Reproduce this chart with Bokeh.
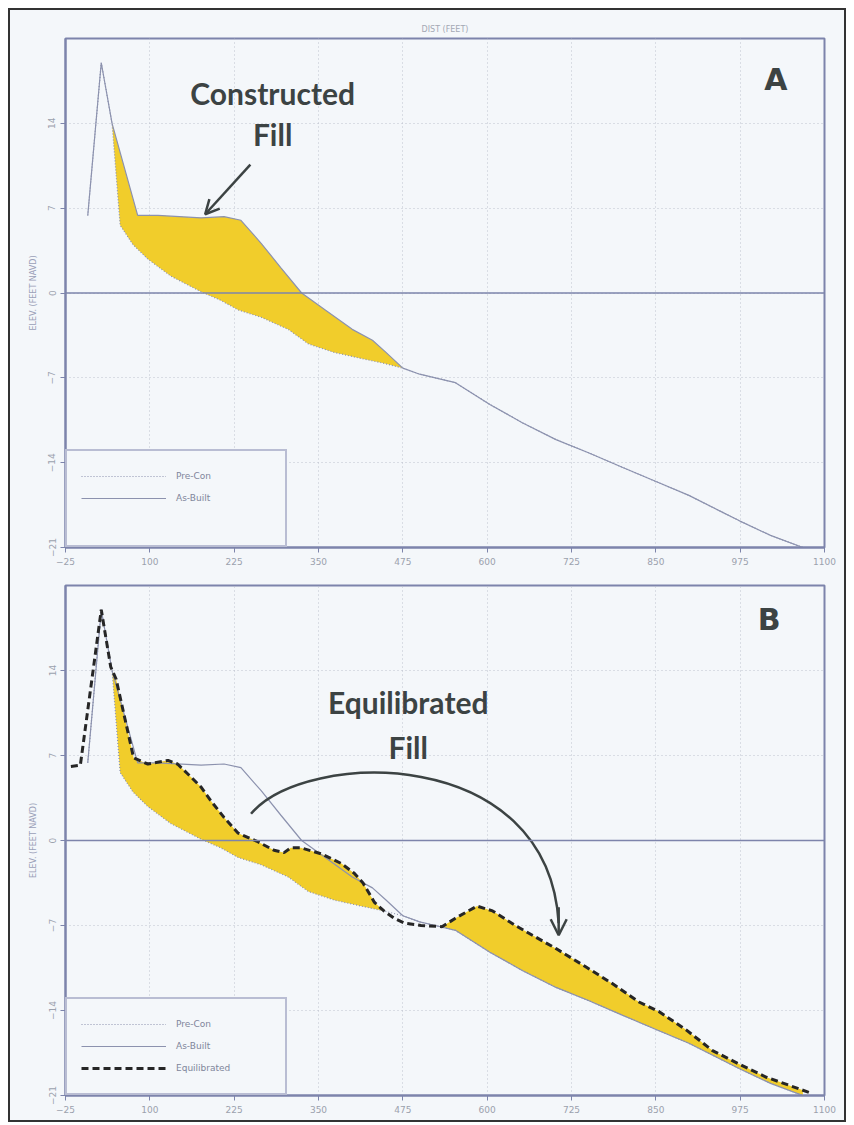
import numpy as np
from bokeh.plotting import figure
from bokeh.models import (Span, Legend, LegendItem, Label, Arrow, OpenHead,
                          FixedTicker, Range1d)
from bokeh.layouts import column
from bokeh.embed import file_html
from bokeh.resources import INLINE

# ---------------- data ----------------
x_ticks = [-25, 100, 225, 350, 475, 600, 725, 850, 975, 1100]
y_ticks = [-21, -14, -7, 0, 7, 14]

precon_x = [8, 28, 44, 56, 75, 97, 131, 176, 205, 231, 265, 305, 335, 373, 413,
            447, 475, 500, 523, 553, 604, 652, 702, 751, 801, 852, 899, 949, 974, 1020, 1068]
precon_y = [6.4, 19.0, 14.0, 5.6, 4.0, 2.8, 1.4, 0.1, -0.6, -1.4, -2.0, -3.0, -4.2, -4.9, -5.4,
            -5.8, -6.2, -6.7, -7.0, -7.4, -9.2, -10.7, -12.1, -13.2, -14.4, -15.6, -16.7, -18.1, -18.8, -20.0, -21.0]

asbuilt_x = [8, 28, 44, 82, 112, 176, 210, 235, 265, 294, 325, 360, 400, 430, 450, 475,
             500, 523, 553, 604, 652, 702, 751, 801, 852, 899, 949, 974, 1020, 1068]
asbuilt_y = [6.4, 19.0, 14.0, 6.4, 6.4, 6.2, 6.3, 6.0, 4.1, 2.1, 0.0, -1.4, -3.0, -3.9, -4.9, -6.2,
             -6.7, -7.0, -7.4, -9.2, -10.7, -12.1, -13.2, -14.4, -15.6, -16.7, -18.1, -18.8, -20.0, -21.0]

equil_x = [-17, -3, 28, 42, 50, 76, 97, 127, 141, 156, 176, 190, 210, 231, 260, 284, 299, 309,
           324, 354, 384, 403, 416, 433, 447, 462, 477, 502, 533, 553, 585, 608, 642, 667, 702,
           746, 786, 825, 855, 895, 934, 973, 1014, 1080]
equil_y = [6.1, 6.2, 19.0, 14.3, 13.3, 6.8, 6.3, 6.6, 6.3, 5.5, 4.4, 3.3, 1.9, 0.6, -0.1, -0.8, -1.0, -0.6,
           -0.6, -1.1, -1.9, -2.7, -3.5, -5.1, -5.8, -6.4, -6.8, -7.0, -7.1, -6.4, -5.4, -5.8, -7.0, -7.8, -8.9,
           -10.4, -11.8, -13.3, -14.1, -15.6, -17.3, -18.4, -19.5, -20.8]

# ---------------- style ----------------
AXIS = "#7d84ab"
LINE = "#8c92ae"
FILL = "#f1cd2b"
BG = "#f4f7fa"
TXT = "#3c4343"
TICK = "#9ba1ad"


def fill_between(p, xa, ya, xb, yb, start=None):
    lo_x = max(min(xa), min(xb))
    if start is not None:
        lo_x = max(lo_x, start)
    hi_x = min(max(xa), max(xb))
    xs = np.union1d(np.union1d(xa, xb), np.arange(lo_x, hi_x, 1.0))
    xs = xs[(xs >= lo_x) & (xs <= hi_x)]
    low = np.interp(xs, xa, ya)
    high = np.interp(xs, xb, yb)
    p.varea(x=xs, y1=low, y2=np.maximum(low, high), fill_color=FILL, fill_alpha=1.0)


def make_panel(height, top_border, title):
    p = figure(width=834, height=height, x_range=Range1d(-25, 1100), y_range=Range1d(-21, 21),
               output_backend="svg", toolbar_location=None,
               min_border_left=55, min_border_right=20, min_border_top=top_border,
               min_border_bottom=25, background_fill_color=BG, border_fill_color=BG,
               title=title)
    p.title.align = "center"
    p.title.text_font = "DejaVu Sans"
    p.title.text_font_size = "8px"
    p.title.text_font_style = "normal"
    p.title.text_color = "#a3a8b4"
    p.outline_line_color = AXIS
    p.outline_line_width = 2
    for ax in (p.xaxis, p.yaxis):
        ax.axis_line_color = AXIS
        ax.axis_line_width = 2
        ax.major_tick_line_color = AXIS
        ax.major_tick_out = 5
        ax.major_tick_in = 0
        ax.minor_tick_line_color = None
        ax.major_label_text_color = TICK
        ax.major_label_text_font = "DejaVu Sans"
        ax.major_label_text_font_size = "9px"
    p.xaxis.ticker = FixedTicker(ticks=x_ticks)
    p.yaxis.ticker = FixedTicker(ticks=y_ticks)
    p.yaxis.major_label_orientation = "vertical"
    p.yaxis.axis_label = "ELEV. (FEET NAVD)"
    p.yaxis.axis_label_text_font = "DejaVu Sans"
    p.yaxis.axis_label_text_font_size = "8px"
    p.yaxis.axis_label_text_font_style = "normal"
    p.yaxis.axis_label_text_color = "#9aa0b8"
    p.yaxis.axis_label_standoff = 8
    for g in (p.xgrid, p.ygrid):
        g.grid_line_color = "#b9bdcb"
        g.grid_line_dash = "1 3"
        g.grid_line_alpha = 0.9
    p.add_layout(Span(location=0, dimension="width", line_color=AXIS, line_width=1.5))
    return p


def add_legend(p, items):
    leg = Legend(items=items, location="bottom_left", margin=0, padding=14,
                 spacing=0, glyph_width=85, glyph_height=22, label_height=22,
                 label_width=95, label_standoff=10,
                 label_text_font="DejaVu Sans", label_text_font_size="9px",
                 label_text_color="#80869a", border_line_color=AXIS,
                 border_line_width=2, background_fill_color=BG, background_fill_alpha=1.0)
    p.add_layout(leg)


def big_label(p, x, y, text, font="Lato", size="30px"):
    p.add_layout(Label(x=x, y=y, text=text, text_align="center", text_baseline="middle",
                       text_font=font, text_font_size=size, text_font_style="bold", text_color=TXT))


# ---------------- panel A ----------------
pa = make_panel(562, 28, "DIST (FEET)")
fill_between(pa, precon_x, precon_y, asbuilt_x, asbuilt_y)
r_pre_a = pa.line(precon_x, precon_y, line_color=LINE, line_width=1.2, line_dash="1 2")
r_ab_a = pa.line(asbuilt_x, asbuilt_y, line_color=LINE, line_width=1.2)
r_blank = pa.line(x=[], y=[], line_alpha=0)
add_legend(pa, [LegendItem(label="Pre-Con", renderers=[r_pre_a]),
                LegendItem(label="As-Built", renderers=[r_ab_a]),
                LegendItem(label=" ", renderers=[r_blank])])

big_label(pa, 282, 16.5, "Constructed")
big_label(pa, 282, 13.1, "Fill")
pa.add_layout(Arrow(x_start=249, y_start=10.6, x_end=182, y_end=6.5, line_color=TXT, line_width=2.5,
                    end=OpenHead(size=14, line_color=TXT, line_width=2.5)))
big_label(pa, 1028, 17.6, "A", font="DejaVu Sans", size="30px")

# ---------------- panel B ----------------
pb = make_panel(548, 13, "")
fill_between(pb, precon_x, precon_y, equil_x, equil_y, start=30)
r_ab_b = pb.line(asbuilt_x, asbuilt_y, line_color=LINE, line_width=1.2)
r_pre_b = pb.line(precon_x, precon_y, line_color=LINE, line_width=1.2, line_dash="1 2")
r_eq_b = pb.line(equil_x, equil_y, line_color="#262626", line_width=3, line_dash="7 4")
add_legend(pb, [LegendItem(label="Pre-Con", renderers=[r_pre_b]),
                LegendItem(label="As-Built", renderers=[r_ab_b]),
                LegendItem(label="Equilibrated", renderers=[r_eq_b])])

big_label(pb, 483, 11.4, "Equilibrated")
big_label(pb, 483, 7.7, "Fill")
pb.bezier(x0=250, y0=2.2, x1=706, y1=-6.8, cx0=330, cy0=7.5, cx1=690, cy1=8.0,
          line_color=TXT, line_width=2.5)
pb.add_layout(Arrow(x_start=706, y_start=-5.5, x_end=706, y_end=-7.8, line_color=TXT, line_width=2.5,
                    end=OpenHead(size=16, line_color=TXT, line_width=2.5)))
big_label(pb, 1018, 18.2, "B", font="DejaVu Sans", size="30px")

layout = column(pa, pb, styles={"border": "2px solid #333333", "background-color": BG,
                                "margin-left": "8px", "margin-top": "8px"})

open("out.html", "w").write(file_html(layout, INLINE))
